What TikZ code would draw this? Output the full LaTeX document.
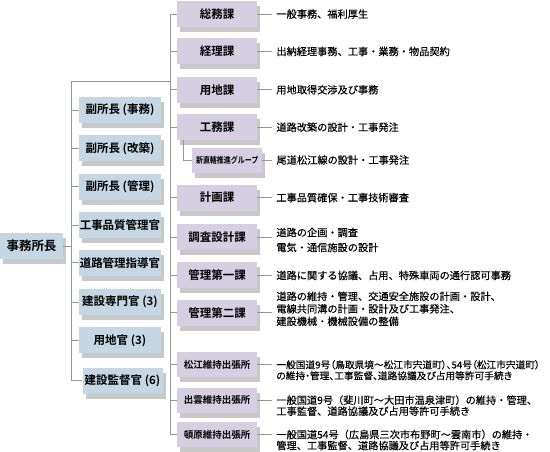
\documentclass[tikz,border=0pt]{standalone}
\usepackage{fontspec}
\newfontfamily\jpfont{Noto Sans CJK JP}[BoldFont={Noto Sans CJK JP Bold}]
\newfontfamily\jpdesc{Noto Sans CJK JP}[FakeBold=0.25]
\newfontfamily\jppalt{Noto Sans CJK JP}[FakeBold=0.25, RawFeature=+palt]
\usetikzlibrary{positioning, shadows}
\definecolor{deputyblue}{RGB}{196,215,226}
\definecolor{sectionpurple}{RGB}{213,207,225}
\definecolor{shadowgray}{RGB}{200,200,200}
\definecolor{linegray}{RGB}{150,150,150}
\tikzset{
    base/.style = {
        draw=none, text centered, inner sep=0pt, minimum height=26pt,
        drop shadow={shadow xshift=3pt, shadow yshift=-5pt, fill=shadowgray, opacity=1},
        font=\jpfont\bfseries\fontsize{11.5}{13}\selectfont, text=black
    },
    % Boxes
    chief/.style   = {base, fill=deputyblue, minimum width=63pt, font=\jpfont\bfseries\fontsize{12.5}{14}\selectfont},
    deputy/.style  = {base, fill=deputyblue, minimum width=82pt},
    section/.style = {base, fill=sectionpurple, minimum width=80pt},
    office/.style  = {section, minimum height=25pt, font=\jpfont\bfseries\fontsize{9.5}{11}\selectfont},
    group/.style   = {section, minimum width=70pt, minimum height=25pt, font=\jpfont\bfseries\fontsize{8.5}{10}\selectfont},
    % Lines and duties
    link/.style = {draw=linegray, line width=0.8pt},
    desc/.style = {font=\jpdesc\fontsize{10.2}{12}\selectfont, align=left, inner xsep=4pt, inner ysep=0pt, text=black}
}

\begin{document}
\begin{tikzpicture}[x=1pt, y=-1pt, node distance=12pt]
    \useasboundingbox (0,0) rectangle (550,451);

    \node (chief) [chief] at (31.5,246) {事務所長};

    % deputies
    \node (fuku1) [deputy] at (120,110) {副所長 (事務)};
    \node (fuku2) [deputy, below=of fuku1] {副所長 (改築)};
    \node (fuku3) [deputy, below=of fuku2] {副所長 (管理)};
    \node (hinshitsu) [deputy, below=of fuku3] {工事品質管理官};
    \node (shidou) [deputy, below=11pt of hinshitsu] {道路管理指導官};
    \node (senmon) [deputy, below=13pt of shidou] {建設専門官 (3)};
    \node (youchikan) [deputy, below=of senmon] {用地官 (3)};
    \node (kantoku) [deputy, below=14pt of youchikan, xshift=2.5pt, minimum width=80pt] {建設監督官 (6)};

    % sections
    \node (soumu) [section] at (217,14) {総務課};
    \node (keiri) [section, below=11pt of soumu] {経理課};
    \node (youchi) [section, below=of keiri] {用地課};
    \node (koumu) [section, below=11pt of youchi] {工務課};
    \node (shinchoku) [group, anchor=west] at (192,160) {\scalebox{0.82}[1]{新直轄推進グループ}};
    \node (keikaku) [section, below=44pt of koumu] {計画課};
    \node (chousa) [section, below=13pt of keikaku] {調査設計課};
    \node (kanri1) [section, below=of chousa] {管理第一課};
    \node (kanri2) [section, below=11pt of kanri1] {管理第二課};
    \node (matsue) [office, below=26pt of kanri2] {松江維持出張所};
    \node (izumo) [office, below=10pt of matsue] {出雲維持出張所};
    \node (tonbara) [office, below=9pt of izumo] {頓原維持出張所};

    % duties
    \node (soumu-d) [desc, right=15pt of soumu] {一般事務、福利厚生};
    \node (keiri-d) [desc, right=15pt of keiri] {出納経理事務、工事・業務・物品契約};
    \node (youchi-d) [desc, right=15pt of youchi] {用地取得交渉及び事務};
    \node (koumu-d) [desc, right=15pt of koumu] {道路改築の設計・工事発注};
    \node (shinchoku-d) [desc, right=10pt of shinchoku] {尾道松江線の設計・工事発注};
    \node (keikaku-d) [desc, right=15pt of keikaku] {工事品質確保・工事技術審査};
    \node (chousa-d) [desc, right=15pt of chousa, yshift=-3pt, font=\jpdesc\fontsize{10.2}{15}\selectfont] {道路の企画・調査\\電気・通信施設の設計};
    \node (kanri1-d) [desc, right=15pt of kanri1] {道路に関する協議、占用、特殊車両の通行認可事務};
    \node (kanri2-d) [desc, right=15pt of kanri2, yshift=4pt, font=\jpdesc\fontsize{10.2}{12.5}\selectfont] {道路の維持・管理、交通安全施設の計画・設計、\\電線共同溝の計画・設計及び工事発注、\\建設機械・機械設備の整備};
    \node (matsue-d) [desc, right=15pt of matsue, yshift=-5.5pt, font=\jppalt\fontsize{9.7}{11}\selectfont] {一般国道9号（鳥取県境～松江市宍道町）、54号（松江市宍道町）\\の維持・管理、工事監督、道路協議及び占用等許可手続き};
    \node (izumo-d) [desc, right=15pt of izumo, yshift=-5.5pt, font=\jpdesc\fontsize{10.2}{11}\selectfont] {一般国道9号（斐川町～大田市温泉津町）の維持・管理、\\工事監督、道路協議及び占用等許可手続き};
    \node (tonbara-d) [desc, right=15pt of tonbara, yshift=-5.5pt, font=\jpdesc\fontsize{10.2}{11}\selectfont] {一般国道54号（広島県三次市布野町～雲南市）の維持・\\管理、工事監督、道路協議及び占用等許可手続き};

    % tree lines
    \coordinate (spine) at (71,81);
    \coordinate (bus) at (170,81);
    \draw [link] (chief.east) -- (chief.east -| spine);
    \draw [link] (spine |- kantoku.west) -- (spine) -- (bus);
    \foreach \n in {fuku1, fuku2, fuku3, hinshitsu, shidou, senmon, youchikan, kantoku}
        \draw [link] (\n.west) -- (\n.west -| spine);
    \draw [link] (bus |- soumu.west) -- (bus |- tonbara.west);
    \foreach \n in {soumu, keiri, youchi, koumu, keikaku, chousa, kanri1, kanri2, matsue, izumo, tonbara}
        \draw [link] (\n.west) -- (\n.west -| bus);
    \draw [link] ([xshift=7pt]koumu.south west) |- (shinchoku.west);
    \foreach \n in {soumu, keiri, youchi, koumu, shinchoku, keikaku, chousa, kanri1, kanri2, matsue, izumo, tonbara}
        \draw [link] (\n.east) -- (\n.east -| \n-d.west);
\end{tikzpicture}
\end{document}
